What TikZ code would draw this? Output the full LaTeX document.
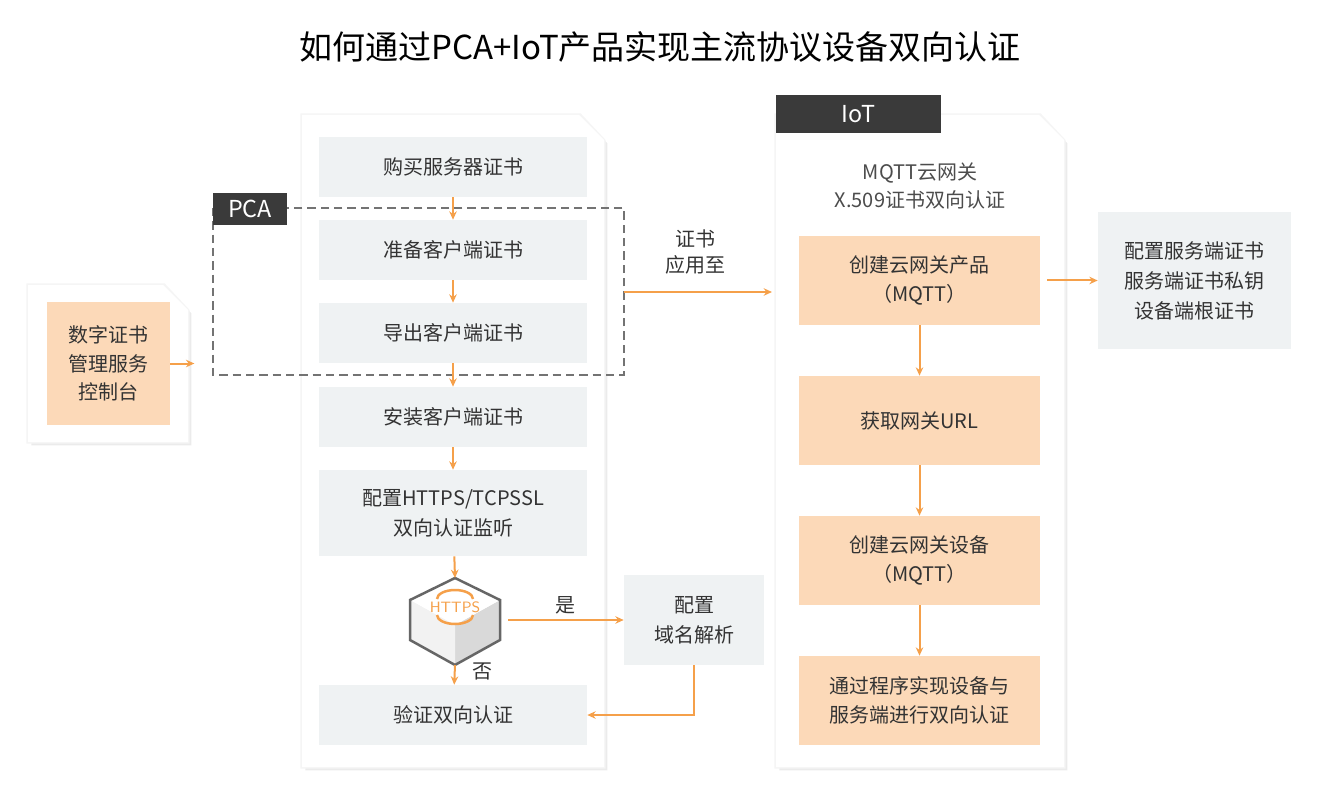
\documentclass[tikz,border=0pt]{standalone}
\usepackage{fontspec}
\setmainfont{Noto Sans CJK SC}
\usepackage{tikz}
\usetikzlibrary{arrows.meta,calc,positioning}
\definecolor{boxgray}{HTML}{EFF2F3}
\definecolor{boxorange}{HTML}{FCD9B8}
\definecolor{lineorange}{HTML}{F5A04A}
\definecolor{tagdark}{HTML}{3A3A3A}
\definecolor{txt}{HTML}{333333}
\tikzset{
  pcastep/.style={fill=boxgray,text=txt,font=\fontsize{12}{15}\selectfont,align=center},
  iotstep/.style={fill=boxorange,text=txt,font=\fontsize{12}{17}\selectfont,align=center},
  flow/.style={draw=lineorange,line width=1.2pt,-{Stealth[length=5pt,width=4.5pt]}},
  tag/.style={fill=tagdark,text=white,font=\fontsize{14}{16}\selectfont},
}
% card with cut corner: #1 = top-left, #2 = bottom-right
\newcommand{\cutcard}[2]{%
  \fill[black!8] let \p1=#1, \p2=#2 in
    (\x1+2pt,\y1-2pt) -- (\x2-15pt+2pt,\y1-2pt) -- (\x2+2pt,\y1-15pt-2pt) -- (\x2+2pt,\y2-2pt) -- (\x1+2pt,\y2-2pt) -- cycle;
  \fill[black!4] let \p1=#1, \p2=#2 in
    (\x1-1pt,\y1+1pt) -- (\x2-15pt+1pt,\y1+1pt) -- (\x2+1pt,\y1-15pt) -- (\x2+1pt,\y2-1pt) -- (\x1-1pt,\y2-1pt) -- cycle;
  \fill[white] let \p1=#1, \p2=#2 in
    (\x1,\y1) -- (\x2-15pt,\y1) -- (\x2,\y1-15pt) -- (\x2,\y2) -- (\x1,\y2) -- cycle;}
\begin{document}
\begin{tikzpicture}[x=0.6pt,y=-0.6pt]
\useasboundingbox (0,0) rectangle (1320,800);
\node[font=\fontsize{19.8}{22}\selectfont,text=black] (title) at (660,47) {如何通过PCA+IoT产品实现主流协议设备双向认证};

% panels
\cutcard{(28,285)}{(188,442)}
\cutcard{(302,115)}{(604,767)}
\cutcard{(776,115)}{(1064,767)}

% left console
\node[iotstep,minimum width=123*0.6pt,minimum height=123*0.6pt] (console) at (108.5,363.5) {数字证书\\管理服务\\控制台};

% PCA column
\node[pcastep,minimum width=268*0.6pt,minimum height=60*0.6pt] (buy) at (453,167) {购买服务器证书};
\node[pcastep,minimum width=268*0.6pt,minimum height=60*0.6pt] (prep) at (453,250) {准备客户端证书};
\node[pcastep,minimum width=268*0.6pt,minimum height=60*0.6pt] (export) at (453,333) {导出客户端证书};
\node[pcastep,minimum width=268*0.6pt,minimum height=60*0.6pt] (install) at (453,417) {安装客户端证书};
\node[pcastep,minimum width=268*0.6pt,minimum height=86*0.6pt,font=\fontsize{12}{18}\selectfont] (listen) at (453,513) {配置HTTPS/TCPSSL\\双向认证监听};
\node[pcastep,minimum width=268*0.6pt,minimum height=60*0.6pt] (verify) at (453,715) {验证双向认证};
\node[pcastep,minimum width=140*0.6pt,minimum height=90*0.6pt,font=\fontsize{12}{18}\selectfont] (dns) at (694,620) {配置\\域名解析};

% dashed PCA frame and tag
\draw[draw=black!55,line width=0.8pt,dash pattern=on 5pt off 3pt] (213,208) rectangle (624,375);
\node[tag,minimum width=74*0.6pt,minimum height=32*0.6pt] (pcatag) at (250,209) {PCA};

% HTTPS switch
\fill[black!15] (410,600) -- (455,625) -- (500,600) -- (500,640) -- (455,665) -- (410,640) -- cycle;
\fill[black!5] (410,600) -- (455,625) -- (455,665) -- (410,640) -- cycle;
\fill[white] (410,600) -- (455,578) -- (500,600) -- (455,625) -- cycle;
\draw[black!60,line width=1.5pt] (455,578) -- (500,600) -- (500,640) -- (455,665) -- (410,640) -- (410,600) -- cycle;
\node[text=lineorange,font=\sffamily\fontsize{9}{10}\selectfont] (https) at (455,607) {HTTPS};
\draw[lineorange,line width=1.5pt] (437,599) arc[start angle=180,end angle=360,x radius=18,y radius=9];
\draw[lineorange,line width=1.5pt] (437,615) arc[start angle=180,end angle=0,x radius=18,y radius=9];
\coordinate (hxtop) at (455,578);
\coordinate (hxbot) at (455,665);
\coordinate (hxright) at (508,620);
\node[text=txt,font=\fontsize{12}{13}\selectfont] (yes) at (565,605) {是};
\node[text=txt,font=\fontsize{12}{13}\selectfont] (no) at (482,671) {否};

% PCA flow
\draw[flow] (console.east) -- ++(24,0);
\draw[flow] (buy) -- (prep);
\draw[flow] (prep) -- (export);
\draw[flow] (export) -- (install);
\draw[flow] (install) -- (listen);
\draw[flow] (listen) -- (hxtop);
\draw[flow] (hxbot) -- (verify);
\draw[flow] (hxright) -- (dns.west);
\draw[flow] (dns.south) |- (verify.east);

% IoT column
\node[tag,minimum width=165*0.6pt,minimum height=38*0.6pt] (iottag) at (858.5,114) {IoT};
\node[text=black!70,font=\fontsize{12}{17}\selectfont,align=center] (gw) at (920,186) {MQTT云网关\\X.509证书双向认证};
\node[iotstep,minimum width=241*0.6pt,minimum height=89*0.6pt] (product) at (919.5,280.5) {创建云网关产品\\（MQTT）};
\node[iotstep,minimum width=241*0.6pt,minimum height=89*0.6pt] (url) at (919.5,420.5) {获取网关URL};
\node[iotstep,minimum width=241*0.6pt,minimum height=89*0.6pt] (device) at (919.5,560.5) {创建云网关设备\\（MQTT）};
\node[iotstep,minimum width=241*0.6pt,minimum height=89*0.6pt] (prog) at (919.5,700.5) {通过程序实现设备与\\服务端进行双向认证};
\draw[flow] (product) -- (url);
\draw[flow] (url) -- (device);
\draw[flow] (device) -- (prog);

% certificate link
\node[text=txt,font=\fontsize{12}{16}\selectfont,align=center] (apply) at (695,252) {证书\\应用至};
\coordinate (pcaright) at (624,292);
\draw[flow] (pcaright) -- (pcaright -| 772,0);

% server config
\node[pcastep,minimum width=193*0.6pt,minimum height=137*0.6pt,font=\fontsize{12}{18}\selectfont] (srv) at (1194.5,280.5) {配置服务端证书\\服务端证书私钥\\设备端根证书};
\draw[flow] (product.east) ++(7,0) -- (srv.west);
\end{tikzpicture}
\end{document}
